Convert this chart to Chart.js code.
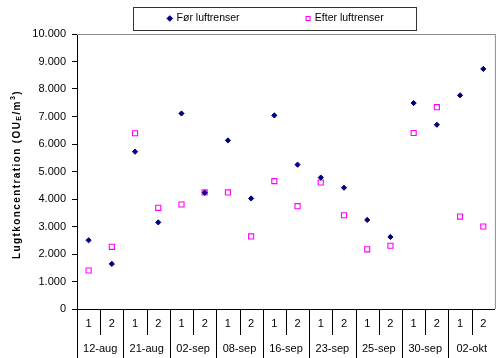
<!DOCTYPE html>
<html><head><meta charset="utf-8">
<script src="https://cdn.jsdelivr.net/npm/chart.js@4/dist/chart.umd.min.js"></script>
<style>html,body{margin:0;padding:0;background:#fff}#wrap{width:500px;height:358px;position:relative}</style>
</head><body><div id="wrap"><canvas id="c" width="500" height="358"></canvas></div>
<script>
// ---- data ----
const subLabels = ['1','2','1','2','1','2','1','2','1','2','1','2','1','2','1','2','1','2'];
const dateLabels = ['12-aug','21-aug','02-sep','08-sep','16-sep','23-sep','25-sep','30-sep','02-okt'];
const seriesNames = ['Før luftrenser','Efter luftrenser'];
const forValues = [2500,1640,5720,3150,7110,4230,6130,4020,7040,5250,4780,4410,3240,2620,7490,6700,7770,8730];
const efterValues = [1400,2260,6390,3680,3800,4240,4240,2640,4650,3740,4600,3410,2170,2300,6400,7340,3360,3000];
const yMin = 0, yMax = 10000, yStep = 1000;
const yTitleParts = [
  {text:'Lugtkoncentration (OU', script:'normal'},
  {text:'E', script:'sub'},
  {text:'/m', script:'normal'},
  {text:'3', script:'sup'},
  {text:')', script:'normal'}
];

const FONT = "Arial, 'Liberation Sans', sans-serif";
const fmt = v => String(v).replace(/\B(?=(\d{3})+(?!\d))/g, '.');

const LEG_ITEMS_CX = 276, LEG_ROW_CY = 18.5, LEG_BOX = {cx:274.5, w:283, top:7.5, bottom:30.5};

const legendFix = {
  id:'legendFix',
  afterLayout(chart){
    const lg = chart.legend;
    if (!lg || !lg.lineWidths) return;
    const P = lg.options.labels.padding;
    const fs = lg.options.labels.font.size;
    const spanW = lg.lineWidths[0] - P;
    const curStart = (lg.left + P + lg.right - lg.lineWidths[0]) / 2;
    const dx = (LEG_ITEMS_CX - spanW/2) - curStart;
    lg.left += dx; lg.right += dx;
    lg.top = LEG_ROW_CY - fs/2 - P;
  },
  afterDraw(chart){
    const ctx = chart.ctx;
    ctx.save();
    ctx.strokeStyle = '#333'; ctx.lineWidth = 1;
    ctx.strokeRect(Math.round(LEG_BOX.cx - LEG_BOX.w/2) + 0.5, LEG_BOX.top, LEG_BOX.w, LEG_BOX.bottom - LEG_BOX.top);
    ctx.restore();
  }
};

const frame = {
  id:'frame',
  beforeDatasetsDraw(chart){
    const {ctx, chartArea:a} = chart;
    ctx.save();
    ctx.strokeStyle = '#8c8c8c'; ctx.lineWidth = 1;
    ctx.beginPath();
    ctx.moveTo(a.left, a.top + 0.5); ctx.lineTo(a.right + 0.5, a.top + 0.5);
    ctx.lineTo(a.right + 0.5, a.bottom);
    ctx.stroke();
    ctx.restore();
  },
  afterDraw(chart){
    const {ctx, chartArea:a} = chart;
    const xs = chart.scales.x, x2 = chart.scales.x2;
    ctx.save();
    ctx.strokeStyle = '#000'; ctx.lineWidth = 1;
    ctx.beginPath();
    for (let i = 0; i < subLabels.length; i++) {
      const px = Math.round(xs.getPixelForValue(i - 0.5)) + 0.5;
      const group = (i % 2 === 0);
      ctx.moveTo(px, a.bottom);
      ctx.lineTo(px, group ? x2.bottom : xs.bottom);
    }
    ctx.stroke();
    // y title with sub/superscript
    const cx = 17, cy = (a.top + a.bottom)/2 + 3;
    ctx.translate(cx, cy);
    ctx.rotate(-Math.PI/2);
    ctx.fillStyle = '#000';
    ctx.textBaseline = 'middle';
    ctx.textAlign = 'left';
    try { ctx.letterSpacing = '1.4px'; } catch(e) {}
    const fontOf = p => 'bold ' + (p.script === 'normal' ? 10 : 7) + 'px ' + FONT;
    let total = 0;
    yTitleParts.forEach(p => { ctx.font = fontOf(p); p.w = ctx.measureText(p.text).width; total += p.w; });
    let x = -total/2;
    yTitleParts.forEach(p => {
      ctx.font = fontOf(p);
      const dy = p.script === 'sub' ? 2.5 : (p.script === 'sup' ? -3.5 : 0);
      ctx.fillText(p.text, x, dy);
      x += p.w;
    });
    ctx.restore();
  }
};

new Chart(document.getElementById('c'), {
  type: 'line',
  data: {
    labels: subLabels,
    datasets: [
      {label: seriesNames[0], data: forValues, showLine:false, pointStyle:'rectRot', pointRadius:2.6,
       pointBorderWidth:1, pointBackgroundColor:'#000080', pointBorderColor:'#000080',
       backgroundColor:'#000080', borderColor:'#000080'},
      {label: seriesNames[1], data: efterValues, showLine:false, pointStyle:'rect', pointRadius:3.6,
       pointBorderWidth:1.1, pointBackgroundColor:'#ffffff', pointBorderColor:'#ff00ff',
       backgroundColor:'#ffffff', borderColor:'#ff00ff'}
    ]
  },
  options: {
    responsive:false, animation:false, events:[], devicePixelRatio:1,
    layout:{padding:{left:0, right:1, top:0, bottom:0}},
    plugins:{
      tooltip:{enabled:false},
      legend:{display:true, position:'top', maxHeight:34,
        labels:{usePointStyle:true, boxWidth:3, boxHeight:4, padding:67,
          font:{family:FONT, size:10.5}, color:'#000'}}
    },
    scales:{
      x:{type:'category', position:'bottom', offset:true,
        grid:{display:false, drawTicks:false, offset:true},
        border:{display:true, color:'#000', width:1},
        ticks:{font:{family:FONT, size:11}, color:'#000', padding:8, maxRotation:0, autoSkip:false},
        afterFit(s){ s.height = 26; }
      },
      x2:{type:'category', position:'bottom', labels:dateLabels, offset:true,
        grid:{display:false, drawTicks:false},
        border:{display:false},
        ticks:{font:{family:FONT, size:11}, color:'#000', padding:7, maxRotation:0, autoSkip:false},
        afterFit(s){ s.height = 23; }
      },
      y:{min:yMin, max:yMax,
        grid:{drawOnChartArea:false, drawTicks:true, tickLength:5, color:'#000'},
        border:{display:true, color:'#000', width:1},
        ticks:{stepSize:yStep, font:{family:FONT, size:11}, color:'#000', padding:6, callback:v => fmt(v)},
        title:{display:false},
        afterFit(s){ s.width = 77; }
      }
    }
  },
  plugins:[legendFix, frame]
});
</script>
</body></html>
